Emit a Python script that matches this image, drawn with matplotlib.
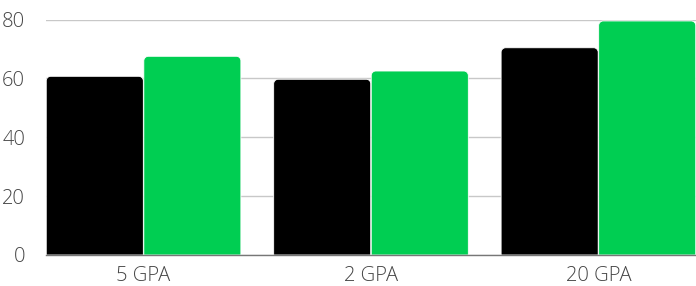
import matplotlib
matplotlib.use("Agg")
import matplotlib.pyplot as plt
from matplotlib.path import Path
from matplotlib.patches import PathPatch
import numpy as np

categories = ["5 GPA", "2 GPA", "20 GPA"]
series_a = [60.7, 59.7, 70.4]
series_b = [67.5, 62.5, 79.5]
colors = ["#000000", "#00CE52"]
yticks = [0, 20, 40, 60, 80]

plt.rcParams['font.family'] = ['Open Sans', 'DejaVu Sans']

fig = plt.figure(figsize=(6.96, 2.86), dpi=100)
ax = fig.add_axes([46/696, 1 - 255/286, 650/696, 235.5/286])

x = np.arange(len(categories))
w = 0.4268
off = 0.2145
bars = []
bars += list(ax.bar(x - off, series_a, w, color=colors[0]))
bars += list(ax.bar(x + off, series_b, w, color=colors[1]))

ax.set_xlim(-0.429, 2.429)
ax.set_ylim(0, 80)

fig.canvas.draw()
# replace bars by rounded-top paths (radius in pixels)
r_px = 4.5
px_per_x = ax.transData.transform((1, 0))[0] - ax.transData.transform((0, 0))[0]
px_per_y = ax.transData.transform((0, 1))[1] - ax.transData.transform((0, 0))[1]
rx = r_px / px_per_x
ry = r_px / px_per_y
k = 0.5523
for b in bars:
    x0, y0 = b.get_x(), b.get_y()
    bw, bh = b.get_width(), b.get_height()
    x1, y1 = x0 + bw, y0 + bh
    verts = [
        (x0, y0), (x0, y1 - ry),
        (x0, y1 - ry + k * ry), (x0 + rx - k * rx, y1), (x0 + rx, y1),
        (x1 - rx, y1),
        (x1 - rx + k * rx, y1), (x1, y1 - ry + k * ry), (x1, y1 - ry),
        (x1, y0), (x0, y0)
    ]
    codes = [Path.MOVETO, Path.LINETO,
             Path.CURVE4, Path.CURVE4, Path.CURVE4,
             Path.LINETO,
             Path.CURVE4, Path.CURVE4, Path.CURVE4,
             Path.LINETO, Path.CLOSEPOLY]
    patch = PathPatch(Path(verts, codes), facecolor=b.get_facecolor(),
                      edgecolor='white', linewidth=0.6, zorder=3)
    ax.add_patch(patch)
    b.set_visible(False)

ax.set_yticks(yticks)
ax.set_xticks(x)
ax.set_xticklabels(categories)
ax.yaxis.grid(True, color="#c8c8c8", linewidth=1)
ax.set_axisbelow(True)
for s in ["top", "right", "left"]:
    ax.spines[s].set_visible(False)
ax.spines["bottom"].set_color("#777777")
ax.spines["bottom"].set_linewidth(1)
ax.spines["bottom"].set_zorder(4)
ax.tick_params(axis='both', length=0, labelsize=14.5, labelcolor="#444444")
ax.tick_params(axis='y', pad=15)
ax.tick_params(axis='x', pad=8)
for lab in ax.get_xticklabels() + ax.get_yticklabels():
    lab.set_fontweight('light')

fig.savefig("out.png", dpi=100)
